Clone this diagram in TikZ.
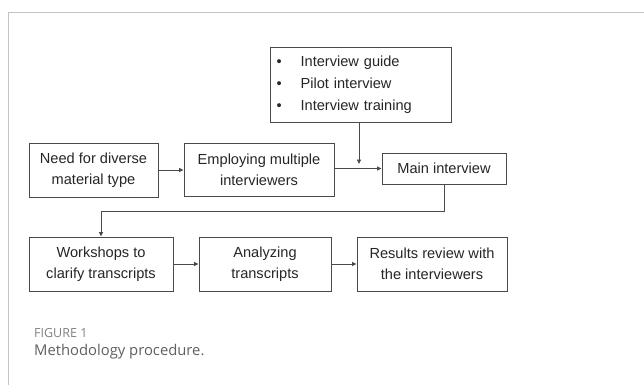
\documentclass[tikz,border=0pt]{standalone}
\usepackage{fontspec}
\setmainfont{Liberation Sans}
\newfontfamily\capfont{Open Sans}
\usetikzlibrary{arrows.meta}
\definecolor{framegray}{HTML}{C4C4C4}
\definecolor{boxline}{HTML}{4A4A4A}
\definecolor{captiongray}{HTML}{808080}
\definecolor{captiontext}{HTML}{606060}
\tikzset{
  stepbox/.style={draw=boxline, line width=0.9pt, align=center, inner sep=0pt,
    font=\fontsize{14.6}{21}\selectfont, text=black!85},
  flow/.style={draw=boxline, line width=0.9pt, -{Triangle[length=4.5pt,width=4pt]}},
}
\begin{document}
\begin{tikzpicture}[x=1pt, y=-1pt]
  \useasboundingbox (0,0) rectangle (644,385);
  \fill[white] (0,0) rectangle (644,385);
  % card frame
  \draw[framegray, line width=1pt] (8,385) -- (8,13) -- (644,13);

  % top row
  \node[stepbox, minimum width=129pt, minimum height=54pt] (need) at (93.5,170)
    {Need for diverse\\material type};
  \node[stepbox, minimum width=150pt, minimum height=53pt] (employ) at (259,169.5)
    {Employing multiple\\interviewers};
  \node[stepbox, minimum width=124pt, minimum height=31pt] (main) at (444,168.5)
    {Main interview};
  \node[stepbox, minimum height=75pt, text width=168pt, inner xsep=6.5pt, align=left]
    (prep) at (360.5,84.5)
    {\fontsize{14.6}{22}\selectfont
     \begin{tabular}{@{}l@{\hspace{19pt}}l@{}}
       \textbullet & Interview guide\\[0pt]
       \textbullet & Pilot interview\\[0pt]
       \textbullet & Interview training
     \end{tabular}};

  % bottom row
  \node[stepbox, minimum width=144pt, minimum height=54pt] (work) at (101,264)
    {Workshops to\\clarify transcripts};
  \node[stepbox, minimum width=132pt, minimum height=54pt] (anal) at (265,264)
    {Analyzing\\transcripts};
  \node[stepbox, minimum width=150pt, minimum height=54pt] (res) at (432,264)
    {Results review with\\the interviewers};

  % connectors
  \coordinate (prepend) at ([xshift=-1.5pt]prep.south |- 0,164);
  \draw[flow] ([xshift=-1.5pt]prep.south) -- (prepend);
  \draw[flow] (need.east |- 0,170) -- (employ.west |- 0,170);
  \draw[flow] (employ.east |- main.west) -- (main.west);
  \draw[flow] (main.south) -- ++(0,27) -| (work.north);
  \draw[flow] (work.east) -- (anal.west);
  \draw[flow] (anal.east) -- (res.west);

  % caption
  \node[anchor=base west, inner sep=0pt, text=captiongray, font=\capfont\fontsize{12.5}{14}\selectfont]
    (figlabel) at (34,337.5) {FIGURE 1};
  \node[anchor=base west, inner sep=0pt, text=captiontext, font=\capfont\fontsize{14.8}{17}\selectfont]
    (figtitle) at (34,355) {Methodology procedure.};
\end{tikzpicture}
\end{document}
